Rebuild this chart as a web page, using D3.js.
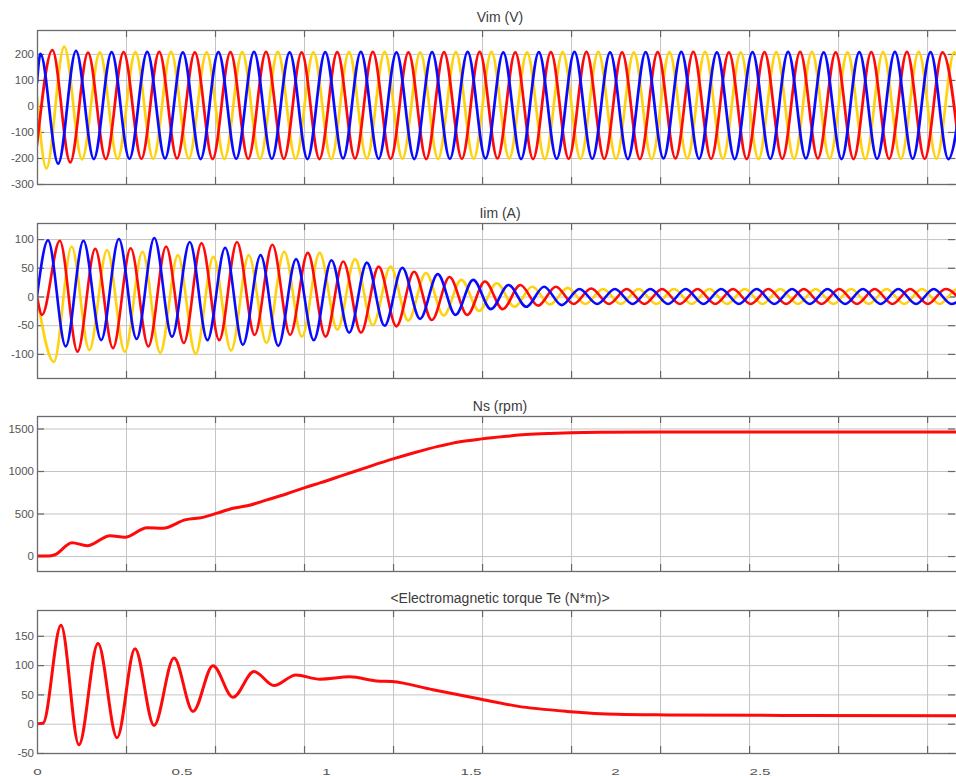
<!DOCTYPE html>
<html><head><meta charset="utf-8">
<script src="https://cdn.jsdelivr.net/npm/d3@7"></script>
<style>
body{margin:0;background:#fff}
svg{display:block}
text{font-family:Arial,"Liberation Sans",sans-serif}
</style>
</head><body>
<svg id="chart" width="956" height="776"></svg>
<script>
// ---------------- data ----------------
const timeTicks = [0, 0.5, 1, 1.5, 2, 2.5];
const timeTickLabels = ["0", "0.5", "1", "1.5", "2", "2.5"];
const timeGrid = [0, 0.308, 0.616, 0.924, 1.232, 1.540, 1.848, 2.156, 2.464, 2.772, 3.080];
const timeEnd = 3.18;

const vimTicks = [-300, -200, -100, 0, 100, 200];
const iimTicks = [-100, -50, 0, 50, 100];
const nsTicks = [0, 500, 1000, 1500];
const teTicks = [-50, 0, 50, 100, 150];

// Vim: values at t=0 and successive extrema (peaks/troughs), half a period apart
const vimHalfPeriod = 0.0616;
const vimStart = { blue: 90, red: -150, yellow: 35 };
const vimFirstExtremum = { blue: 0.0118, red: 0.0533, yellow: 0.0325 };
const vimBlue = [200, -222, 212, -204, 207, -203, 208, -202, 206, -204, 207, -203, 208, -203, 206, -204, 207, -202, 208, -203, 206, -204, 207, -203, 208, -202, 206, -204, 207, -203, 208, -203, 206, -204, 207, -202, 208, -203, 206, -204, 207, -203, 208, -202, 206, -204, 207, -203, 208, -203, 207, -204, 206];
const vimRed = [215, -217, 205, -204, 207, -203, 208, -202, 206, -204, 207, -203, 208, -203, 206, -204, 207, -202, 208, -203, 206, -204, 207, -203, 208, -202, 206, -204, 207, -203, 208, -203, 206, -204, 207, -202, 208, -203, 206, -204, 207, -203, 208, -202, 206, -204, 207, -203, 208, -203, 206, -204];
const vimYellow = [-240, 228, -205, 206, -204, 207, -203, 208, -202, 206, -204, 207, -203, 208, -203, 206, -204, 207, -202, 208, -203, 206, -204, 207, -203, 208, -202, 206, -204, 207, -203, 208, -203, 206, -204, 207, -202, 208, -203, 206, -204, 207, -203, 208, -202, 206, -204, 207, -203, 208, -203, 206, -204];

// Iim: same representation
const iimHalfPeriod = 0.0613;
const iimStart = { blue: 0, red: 0, yellow: 0 };
const iimFirstExtremum = { blue: 0.0381, red: 0.0176, yellow: 0.0585 };
const iimBlue = [98, -87, 97, -76, 100, -74, 102, -70, 95, -76, 85, -84, 72, -86, 65, -76, 63, -63, 59, -51, 50, -39, 39, -32, 29, -22, 20, -18, 17, -15, 13, -13, 13, -13, 13, -13, 13, -13, 13, -13, 13, -13, 13, -13, 13, -13, 13, -13, 13, -13, 13, -13, 13];
const iimRed = [-32, 97, -96, 83, -90, 84, -87, 87, -81, 93, -76, 95, -67, 90, -67, 76, -70, 61, -63, 52, -52, 43, -41, 34, -32, 26, -22, 20, -16, 17, -13, 14, -13, 13, -13, 13, -13, 13, -13, 13, -13, 13, -13, 13, -13, 13, -13, 13, -13, 13, -13, 13, -13];
const iimYellow = [-114, 87, -93, 81, -96, 78, -98, 72, -100, 69, -94, 72, -81, 78, -70, 76, -58, 65, -50, 52, -42, 41, -33, 29, -25, 23, -18, 17, -14, 15, -13, 13, -13, 13, -13, 13, -13, 13, -13, 13, -13, 13, -13, 13, -13, 13, -13, 13, -13, 13, -13, 13, -13];

// Ns (rpm)
const nsTime = [0, 0.038, 0.062, 0.121, 0.173, 0.253, 0.304, 0.381, 0.436, 0.512, 0.574, 0.623, 0.678, 0.727, 0.796, 0.865, 0.927, 0.979, 1.055, 1.152, 1.232, 1.308, 1.388, 1.464, 1.540, 1.616, 1.692, 1.775, 1.848, 1.948, 2.156, 3.180];
const nsRpm = [0, 0, 15, 157, 122, 240, 221, 334, 327, 425, 455, 504, 563, 591, 661, 733, 805, 860, 945, 1055, 1142, 1218, 1290, 1345, 1378, 1405, 1428, 1442, 1450, 1455, 1458, 1458];

// Electromagnetic torque Te (N*m)
const teTime = [0, 0.021, 0.083, 0.145, 0.211, 0.277, 0.339, 0.405, 0.474, 0.540, 0.609, 0.678, 0.751, 0.820, 0.896, 0.979, 1.083, 1.176, 1.228, 1.370, 1.533, 1.661, 1.834, 2.007, 2.180, 2.640, 3.180];
const teValue = [0, 1, 168, -36, 137, -24, 128, -3, 112, 21, 99, 45, 89, 65, 83, 76, 80, 73, 72, 58, 42, 30, 21, 16, 15, 14, 13.5];

// ---------------- drawing ----------------
const colors = { red: "#ff0a0a", blue: "#0a0aff", yellow: "#ffd20f" };
const svg = d3.select("#chart");
svg.append("rect").attr("width", 956).attr("height", 776).attr("fill", "#fff");

const left = 37, right = 956;
const x = d3.scaleLinear().domain([0, timeEnd]).range([left, right]);

function extremaSeries(start, t0, half, values) {
  return [[0, start]].concat(values.map((v, i) => [t0 + i * half, v]));
}

const panels = [
  { title: "Vim (V)", top: 30, bottom: 184, domain: [-300, 292], ticks: vimTicks, titleY: 22, width: 2.7,
    series: [
      { color: colors.yellow, pts: extremaSeries(vimStart.yellow, vimFirstExtremum.yellow, vimHalfPeriod, vimYellow) },
      { color: colors.red, pts: extremaSeries(vimStart.red, vimFirstExtremum.red, vimHalfPeriod, vimRed) },
      { color: colors.blue, pts: extremaSeries(vimStart.blue, vimFirstExtremum.blue, vimHalfPeriod, vimBlue) }
    ] },
  { title: "Iim (A)", top: 223, bottom: 378, domain: [-142, 128], ticks: iimTicks, titleY: 218, width: 2.6,
    series: [
      { color: colors.yellow, pts: extremaSeries(iimStart.yellow, iimFirstExtremum.yellow, iimHalfPeriod, iimYellow) },
      { color: colors.red, pts: extremaSeries(iimStart.red, iimFirstExtremum.red, iimHalfPeriod, iimRed) },
      { color: colors.blue, pts: extremaSeries(iimStart.blue, iimFirstExtremum.blue, iimHalfPeriod, iimBlue) }
    ] },
  { title: "Ns (rpm)", top: 416, bottom: 571, domain: [-176, 1647], ticks: nsTicks, titleY: 411, width: 3,
    series: [ { color: colors.red, pts: nsTime.map((t, i) => [t, nsRpm[i]]) } ] },
  { title: "<Electromagnetic torque Te (N*m)>", top: 610, bottom: 753, domain: [-50, 194], ticks: teTicks, titleY: 603, width: 3,
    series: [ { color: colors.red, pts: teTime.map((t, i) => [t, teValue[i]]) } ] }
];

panels.forEach((p, pi) => {
  const y = d3.scaleLinear().domain(p.domain).range([p.bottom, p.top]);
  const g = svg.append("g");
  const h = p.bottom - p.top;

  // horizontal grid
  g.append("g").attr("transform", `translate(${left},0)`)
    .call(d3.axisLeft(y).tickValues(p.ticks.filter(v => v > p.domain[0] && v < p.domain[1]))
      .tickSize(-(right - left + 10)).tickFormat(""))
    .call(s => s.select(".domain").remove())
    .call(s => s.selectAll("line").attr("stroke", "#c4c4c4").attr("stroke-width", 1));

  // vertical grid
  g.append("g").attr("transform", `translate(0,${p.bottom})`)
    .call(d3.axisBottom(x).tickValues(timeGrid.slice(1)).tickSize(-h).tickFormat(""))
    .call(s => s.select(".domain").remove())
    .call(s => s.selectAll("line").attr("stroke", "#c4c4c4").attr("stroke-width", 1));

  // tick marks (inward) on grid positions, top and bottom
  [p.bottom, p.top].forEach((yy, k) => {
    g.append("g").attr("transform", `translate(0,${yy})`)
      .call(d3.axisBottom(x).tickValues(timeGrid.slice(1)).tickSize(k === 0 ? -7 : 7).tickFormat(""))
      .call(s => s.select(".domain").remove())
      .call(s => s.selectAll("line").attr("stroke", "#666").attr("stroke-width", 1.2));
  });

  // y ticks + labels (left), inward ticks right side
  g.append("g").attr("transform", `translate(${left},0)`)
    .call(d3.axisLeft(y).tickValues(p.ticks).tickFormat(d => String(d))
      .tickSizeInner(-7).tickSizeOuter(0).tickPadding(10))
    .call(s => s.select(".domain").remove())
    .call(s => s.selectAll("line").attr("stroke", "#666").attr("stroke-width", 1.2))
    .call(s => s.selectAll("text").attr("fill", "#555").attr("font-size", 11.5)
      .attr("font-family", "Arial, 'Liberation Sans', sans-serif").attr("x", -3));
  g.append("g").attr("transform", `translate(${right - 1},0)`)
    .call(d3.axisRight(y).tickValues(p.ticks).tickSizeInner(-7).tickSizeOuter(0).tickFormat(""))
    .call(s => s.select(".domain").remove())
    .call(s => s.selectAll("line").attr("stroke", "#666").attr("stroke-width", 1.2));

  // clip + lines
  const clipId = "clip" + pi;
  svg.append("clipPath").attr("id", clipId)
    .append("rect").attr("x", left + 1).attr("y", p.top + 1)
    .attr("width", right - left).attr("height", h - 2);
  const line = d3.line().x(d => x(d[0])).y(d => y(d[1])).curve(d3.curveMonotoneX);
  const lg = g.append("g").attr("clip-path", `url(#${clipId})`);
  p.series.forEach(s => {
    lg.append("path").attr("d", line(s.pts)).attr("fill", "none")
      .attr("stroke", s.color).attr("stroke-width", p.width)
      .attr("stroke-linejoin", "round").attr("stroke-linecap", "round");
  });

  // frame
  g.append("rect").attr("x", left + 0.5).attr("y", p.top + 0.5)
    .attr("width", right - left + 10).attr("height", h)
    .attr("fill", "none").attr("stroke", "#6a6a6a").attr("stroke-width", 1.3);

  // title
  g.append("text").attr("x", 500).attr("y", p.titleY).attr("text-anchor", "middle")
    .attr("font-size", 14).attr("fill", "#3c3c3c").text(p.title);

  // time labels under last panel
  if (pi === panels.length - 1) {
    const ax = g.append("g").attr("transform", `translate(0,${p.bottom})`)
      .call(d3.axisBottom(x).tickValues(timeTicks).tickFormat((d, i) => timeTickLabels[i]).tickSize(0));
    ax.select(".domain").remove();
    ax.selectAll("text").attr("y", 0).attr("dy", null)
      .attr("transform", "translate(0,22) scale(1.6,1)")
      .attr("font-size", 9.5).attr("fill", "#555")
      .attr("font-family", "Arial, 'Liberation Sans', sans-serif");
  }
});
</script>
</body></html>
